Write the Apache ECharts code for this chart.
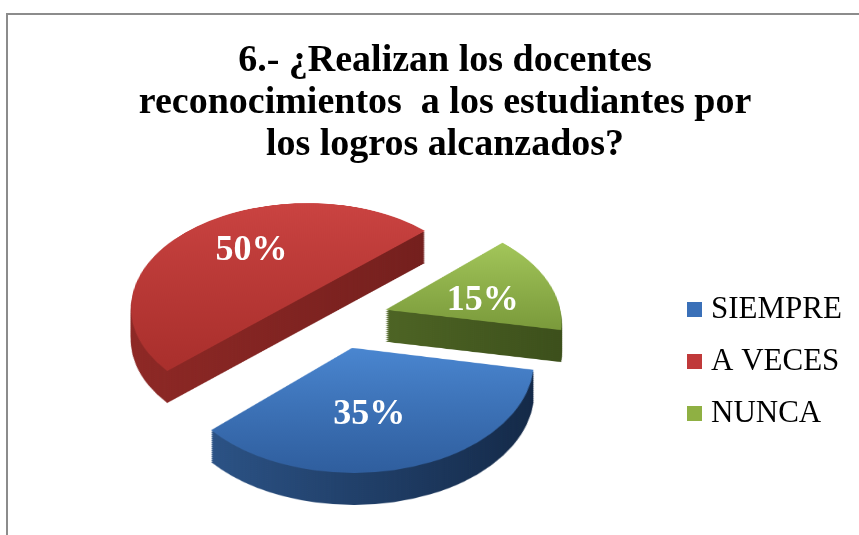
<!DOCTYPE html>
<html>
<head>
<meta charset="utf-8">
<script src="https://cdn.jsdelivr.net/npm/echarts@6/dist/echarts.min.js"></script>
<style>
  html, body { margin: 0; padding: 0; background: #fff; overflow: hidden; }
  .layer { position: absolute; left: 0; top: 0; width: 859px; height: 620px; }
  #main { position: absolute; left: 0; top: 0; width: 859px; height: 535px; }
</style>
</head>
<body>
<div id="layers"></div>
<div id="main"></div>
<script>
// data
var categories = ['SIEMPRE', 'A VECES', 'NUNCA'];
var values = [35, 50, 15];
var titleText = '6.- ¿Realizan los docentes\nreconocimientos  a los estudiantes por\nlos logros alcanzados?';

// colours (top face, side wall) per slice
var topColors = [['#4a86d0', '#2f5e9e'], ['#ca4341', '#a92f2c'], ['#a3c65a', '#7a9a3b']];
var wallColors = [['#2b5285', '#132846'], ['#8e2825', '#741f1d'], ['#4d6424', '#3c4f1b']];
var legendColors = ['#3a70b8', '#c0393a', '#8fb043'];

// fake 3d: every layer is the same pie tilted back with a css perspective,
// the wall layers are pushed down on screen
var CX = 338, CY = 318, R = 176, OFF = 50, DEPTH = 32;
var COS = 0.605, PERSP = 1424, START = 349, LABEL_START = 344;
var TILT = Math.acos(COS), SIN = Math.sin(TILT);

function grad(c, vertical) {
  return new echarts.graphic.LinearGradient(0, 0, vertical ? 0 : 1, vertical ? 1 : 0, [
    {offset: 0, color: c[0]},
    {offset: 1, color: c[1]}
  ]);
}

function pieData(colors, vertical) {
  return categories.map(function (name, i) {
    return {
      name: name,
      value: values[i],
      selected: true,
      itemStyle: colors ? {color: grad(colors[i], vertical)} : {color: 'rgba(0,0,0,0)'}
    };
  });
}

function makeLayer(shift, colors, vertical) {
  var dom = document.createElement('div');
  dom.className = 'layer';
  dom.style.transformOrigin = CX + 'px ' + CY + 'px';
  dom.style.transform = 'translateY(' + shift + 'px) perspective(' + PERSP + 'px) rotateX(' + (TILT * 180 / Math.PI) + 'deg)';
  document.getElementById('layers').appendChild(dom);
  var chart = echarts.init(dom);
  chart.setOption({
    series: [{
      type: 'pie',
      silent: true,
      animation: false,
      startAngle: START,
      radius: R,
      center: [CX, CY],
      selectedMode: 'multiple',
      selectedOffset: OFF,
      label: {show: false},
      labelLine: {show: false},
      data: pieData(colors, vertical)
    }]
  });
}

var N = 16;
for (var i = 0; i < N; i++) {
  makeLayer(DEPTH * (1 - i / N), wallColors, false);
}
makeLayer(0, topColors, true);

// offset of an exploded slice (labelRect comes without it)
var total = values.reduce(function (a, b) { return a + b; }, 0);
function sliceOffset(idx) {
  var cum = 0;
  for (var j = 0; j < idx; j++) cum += values[j];
  var mid = (LABEL_START - 360 * (cum + values[idx] / 2) / total) * Math.PI / 180;
  return [OFF * Math.cos(mid), -OFF * Math.sin(mid)];
}

// overlay: title, legend, labels
var myChart = echarts.init(document.getElementById('main'));
option = {
  title: {
    text: titleText,
    left: 440,
    textAlign: 'center',
    top: 35,
    textStyle: {
      fontFamily: 'Liberation Serif',
      fontWeight: 'bold',
      fontSize: 38,
      lineHeight: 42,
      color: '#000'
    }
  },
  legend: {
    orient: 'vertical',
    left: 682,
    top: 289,
    icon: 'rect',
    itemWidth: 15,
    itemHeight: 15,
    itemGap: 21,
    selectedMode: false,
    textStyle: {
      fontFamily: 'Liberation Serif',
      fontSize: 31,
      lineHeight: 31,
      color: '#000',
      padding: [0, 0, 0, 4]
    },
    data: categories.map(function (name, i) {
      return {name: name, itemStyle: {color: legendColors[i]}};
    })
  },
  graphic: [{
    type: 'rect',
    silent: true,
    shape: {x: 7, y: 14, width: 900, height: 600},
    style: {fill: 'none', stroke: '#8c8c8c', lineWidth: 2}
  }],
  series: [{
    type: 'pie',
    silent: true,
    animation: false,
    startAngle: LABEL_START,
    radius: R * 1.1,
    center: [CX, CY],
    selectedMode: 'multiple',
    selectedOffset: OFF,
    label: {
      show: true,
      position: 'inside',
      formatter: '{c}%',
      fontFamily: 'Liberation Serif',
      fontWeight: 'bold',
      fontSize: 36,
      color: '#fff'
    },
    labelLine: {show: false},
    // move each label the way the tilted pie moved its slice
    labelLayout: function (params) {
      var r = params.labelRect;
      var o = sliceOffset(params.dataIndex);
      var lx = r.x + r.width / 2 - CX + o[0];
      var ly = r.y + r.height / 2 - CY + o[1];
      var s = PERSP / (PERSP - ly * SIN);
      return {dx: lx * s - lx, dy: ly * COS * s - ly};
    },
    data: pieData(null, false)
  }]
};

if (option && typeof option === "object") {
  myChart.setOption(option, true);
}
</script>
</body>
</html>
